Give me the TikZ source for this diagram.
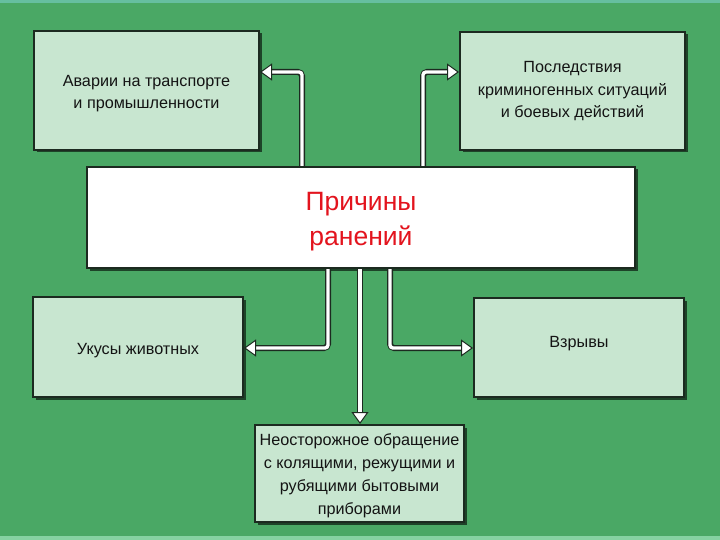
\documentclass[tikz,border=0pt]{standalone}
\usepackage{fontspec}
\setmainfont{Liberation Sans}
\usetikzlibrary{arrows.meta,shadows}
\definecolor{bggreen}{HTML}{4AA865}
\definecolor{boxfill}{HTML}{C8E6D0}
\definecolor{edge}{HTML}{1C2A20}
\definecolor{redtxt}{HTML}{E3141E}
\definecolor{topband}{HTML}{66BFA0}
\definecolor{botband}{HTML}{86D2A2}
\tikzset{
  greenbox/.style={draw=edge, line width=2pt, fill=boxfill,
    drop shadow={shadow xshift=2.5pt, shadow yshift=-2.5pt, opacity=0.6, fill=black}},
  boxtext/.style={align=center, font=\fontsize{16.2}{22.5}\selectfont, text=black!92, inner sep=0pt},
  mainbox/.style={draw=edge, line width=2pt, fill=white,
    drop shadow={shadow xshift=2.5pt, shadow yshift=-2.5pt, opacity=0.6, fill=black}},
  maintext/.style={align=center, font=\fontsize{26.5}{35}\selectfont, text=redtxt, inner sep=0pt},
  shadowline/.style={line width=6pt, draw=edge, rounded corners=4pt},
  whiteline/.style={line width=3.4pt, draw=white, rounded corners=3pt,
    -{Triangle[width=17pt,length=12pt,fill=white,color=edge,line width=1pt]}},
}
\begin{document}
\begin{tikzpicture}[x=1pt,y=-1pt]
\useasboundingbox (0,0) rectangle (720,540);
\fill[bggreen] (0,0) rectangle (720,540);
\fill[topband] (0,0) rectangle (720,3);
\fill[botband] (0,536) rectangle (720,540);

\node[greenbox, minimum width=225pt, minimum height=119pt] (A) at (146.5,90.5) {};
\node[greenbox, minimum width=225pt, minimum height=118pt] (B) at (572.5,91) {};
\node[mainbox, minimum width=548pt, minimum height=101pt] (C) at (361,217.5) {};
\node[greenbox, minimum width=210pt, minimum height=100pt] (D) at (138,347) {};
\node[greenbox, minimum width=210pt, minimum height=99pt] (E) at (579,347.5) {};
\node[greenbox, minimum width=209pt, minimum height=97pt] (F) at (359.5,473.5) {};

\node[boxtext] (At) at ([yshift=-3pt]A.center) {Аварии на транспорте\\и промышленности};
\node[boxtext] (Bt) at ([yshift=-0.5pt]B.center) {Последствия\\криминогенных ситуаций\\и боевых действий};
\node[maintext] (Ct) at ([yshift=-4pt]C.center) {Причины\\ранений};
\node[boxtext] (Dt) at ([yshift=-3.5pt]D.center) {Укусы животных};
\node[boxtext] (Et) at ([yshift=4pt]E.center) {Взрывы};
\node[boxtext, font=\fontsize{16.2}{23}\selectfont] (Ft) at ([yshift=-2pt]F.center)
  {Неосторожное обращение\\с колящими, режущими и\\рубящими бытовыми\\приборами};

% connectors: dark underlay
\draw[shadowline] (C.north -| 302,0) |- ([xshift=10pt]A.east |- 0,72);
\draw[shadowline] (C.north -| 423,0) |- ([xshift=-10pt]B.west |- 0,72);
\draw[shadowline] (C.south -| 328,0) |- ([xshift=10pt]D.east |- 0,348);
\draw[shadowline] (C.south -| 390,0) |- ([xshift=-10pt]E.west |- 0,348);
\draw[shadowline] (C.south -| 360,0) -- ([yshift=10pt]F.north -| 360,0);
% connectors: white
\draw[whiteline] (C.north -| 302,0) |- (A.east |- 0,72);
\draw[whiteline] (C.north -| 423,0) |- (B.west |- 0,72);
\draw[whiteline] (C.south -| 328,0) |- (D.east |- 0,348);
\draw[whiteline] (C.south -| 390,0) |- (E.west |- 0,348);
\draw[whiteline] (C.south -| 360,0) -- (F.north -| 360,0);
\end{tikzpicture}
\end{document}
